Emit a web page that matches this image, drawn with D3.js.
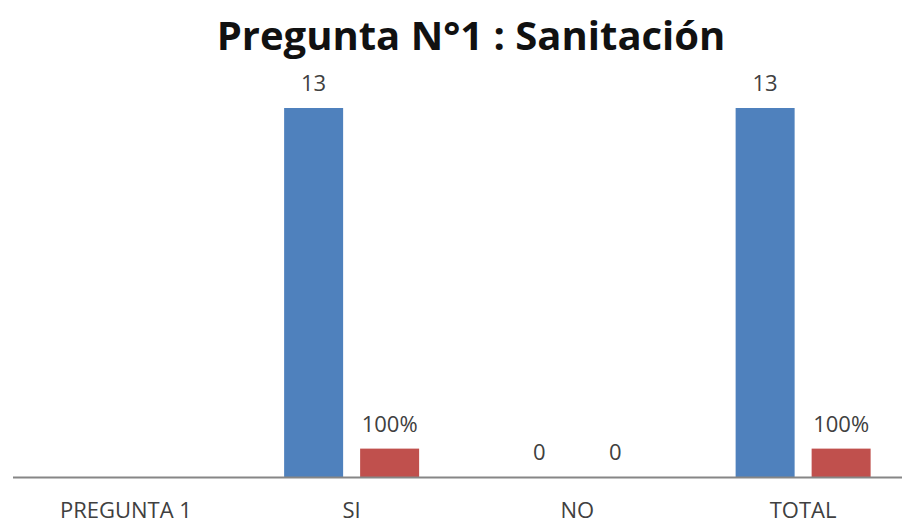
<!DOCTYPE html>
<html>
<head>
<meta charset="utf-8">
<script src="https://cdn.jsdelivr.net/npm/d3@7"></script>
<style>
  html, body { margin: 0; padding: 0; background: #fff; }
  svg { display: block; }
</style>
</head>
<body>
<svg id="chart" width="902" height="523"></svg>
<script>
// Survey answers for question 1
const categories = ["PREGUNTA 1", "SI", "NO", "TOTAL"];
const countValues = [null, 13, 0, 13];     // number of answers
const shareValues = [null, 1, 0, 1];       // share of total
const seriesNames = ["count", "share"];
const titleText = "Pregunta N°1 : Sanitación";

const width = 902, height = 523;
const svg = d3.select("#chart");
const font = "'Open Sans', 'DejaVu Sans', sans-serif";

const x0 = d3.scaleBand()
  .domain(categories)
  .range([13, 916])
  .paddingInner(0.402)
  .paddingOuter(0.201);

const x1 = d3.scaleBand()
  .domain(seriesNames)
  .range([0, x0.bandwidth()])
  .paddingInner(0.2237);

const y = d3.scaleLinear().domain([0, 13]).range([477, 108]);

const colors = { count: "#4F81BD", share: "#C0504D" };

const rows = categories.map((c, i) => ({
  category: c,
  values: [
    { key: "count", value: countValues[i] },
    { key: "share", value: shareValues[i] }
  ]
}));

const fmtShare = v => v === 0 ? "0" : d3.format(".0%")(v);
const fmtCount = v => d3.format("d")(v);

const groups = svg.append("g").selectAll("g")
  .data(rows)
  .join("g")
  .attr("transform", d => `translate(${x0(d.category)},0)`);

const marks = groups.selectAll("g")
  .data(d => d.values.filter(v => v.value !== null))
  .join("g");

marks.append("rect")
  .attr("x", d => x1(d.key))
  .attr("width", x1.bandwidth())
  .attr("y", d => y(d.value))
  .attr("height", d => y(0) - y(d.value))
  .attr("fill", d => colors[d.key]);

marks.append("text")
  .attr("x", d => x1(d.key) + x1.bandwidth() / 2)
  .attr("y", d => y(d.value) - 17)
  .attr("text-anchor", "middle")
  .attr("font-family", font)
  .attr("font-size", 22)
  .attr("fill", "#404040")
  .text(d => d.key === "share" ? fmtShare(d.value) : fmtCount(d.value));

// category axis
const xAxis = svg.append("g")
  .attr("transform", `translate(0,${y(0)})`)
  .call(d3.axisBottom(x0).tickSize(0).tickPadding(0));
xAxis.select(".domain")
  .attr("d", `M13,0.5H${width}`)
  .attr("stroke", "#868686")
  .attr("stroke-width", 2);
xAxis.selectAll(".tick text")
  .attr("y", 41)
  .attr("dy", null)
  .attr("font-family", font)
  .attr("font-size", 22)
  .attr("fill", "#404040");

svg.append("text")
  .attr("x", 471)
  .attr("y", 50)
  .attr("text-anchor", "middle")
  .attr("font-family", font)
  .attr("font-weight", "bold")
  .attr("font-size", 40)
  .attr("fill", "#111")
  .text(titleText);
</script>
</body>
</html>
